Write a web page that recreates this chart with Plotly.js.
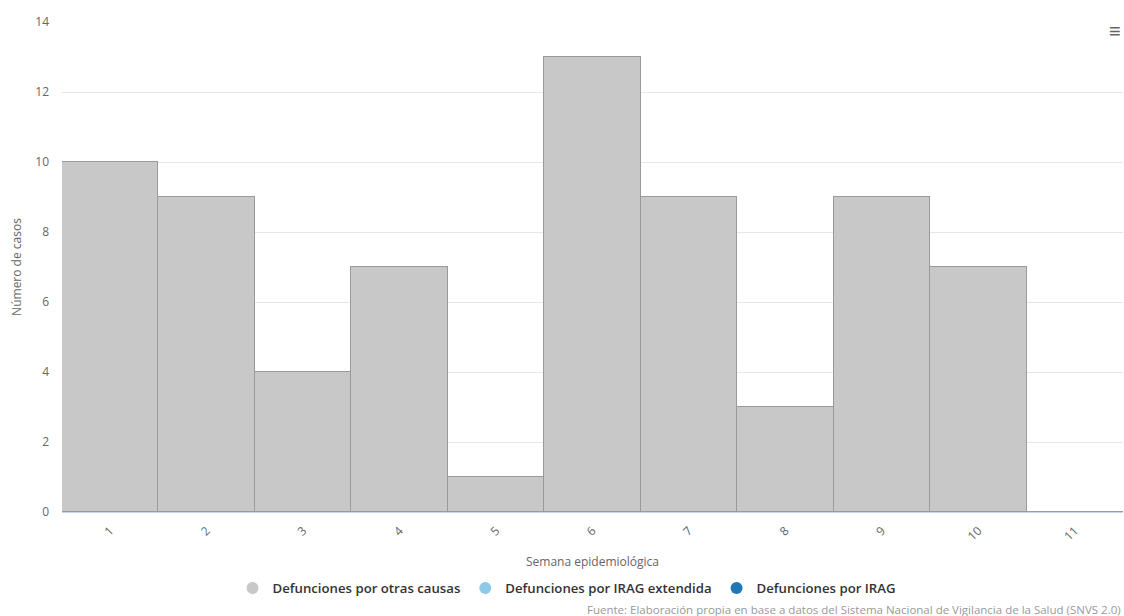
<!DOCTYPE html>
<html>
<head>
<meta charset="utf-8">
<script src="https://cdn.plot.ly/plotly-3.0.1.min.js"></script>
<style>html,body{margin:0;padding:0;background:#fff;}#chart{width:1124px;height:616px;}</style>
</head>
<body>
<div id="chart"></div>
<script>
const semanas = ["1","2","3","4","5","6","7","8","9","10","11"];
const otrasCausas = [10, 9, 4, 7, 1, 13, 9, 3, 9, 7, 0];
const iragExtendida = [0, 0, 0, 0, 0, 0, 0, 0, 0, 0, 0];
const irag = [0, 0, 0, 0, 0, 0, 0, 0, 0, 0, 0];
const yTicks = [0, 2, 4, 6, 8, 10, 12, 14];

const seriesNames = ["Defunciones por otras causas", "Defunciones por IRAG extendida", "Defunciones por IRAG"];
const seriesColors = ["#c8c8c8", "#8ecae6", "#1f78b4"];
const seriesData = [otrasCausas, iragExtendida, irag];

const font = "'Open Sans','Noto Sans',sans-serif";

const traces = [];
seriesData.forEach((vals, i) => {
  traces.push({
    type: 'bar', x: semanas, y: vals, name: seriesNames[i], showlegend: false,
    marker: {color: seriesColors[i], line: {color: i === 0 ? '#9a9a9a' : 'rgba(0,0,0,0)', width: i === 0 ? 1 : 0}},
    hoverinfo: 'x+y+name'
  });
});
seriesNames.forEach((n, i) => {
  traces.push({
    type: 'scatter', mode: 'markers', x: [null], y: [null], name: n, showlegend: true,
    marker: {color: seriesColors[i], size: 14, symbol: 'circle'}, hoverinfo: 'skip'
  });
});

const layout = {
  width: 1124, height: 616,
  margin: {l: 62, r: 1, t: 22, b: 104},
  paper_bgcolor: '#ffffff', plot_bgcolor: '#ffffff',
  barmode: 'stack', bargap: 0,
  font: {family: font, color: '#666666', size: 12},
  xaxis: {
    type: 'category', tickangle: -45, showgrid: false, showline: true, linecolor: '#ccd6eb', linewidth: 1,
    ticks: '', ticklabelstandoff: 6, tickfont: {size: 12, color: '#666666'},
    title: {text: 'Semana epidemiológica', font: {size: 12, color: '#666666'}, standoff: 14},
    fixedrange: true, automargin: false
  },
  yaxis: {
    range: [0, 14], tickvals: yTicks, ticktext: yTicks.map(String), showgrid: true, gridcolor: '#e6e6e6',
    zeroline: false, showline: false, ticks: '', ticklen: 0, ticklabelstandoff: 12, tickfont: {size: 12, color: '#666666'},
    title: {text: 'Número de casos', font: {size: 12, color: '#666666'}, standoff: 11},
    fixedrange: true, automargin: false
  },
  legend: {
    orientation: 'h', x: 0.476, xanchor: 'center', y: -0.156, yanchor: 'middle', traceorder: 'normal',
    font: {size: 13.2, color: '#333333', family: font, weight: 600}, itemsizing: 'constant', tracegroupgap: 0
  },
  annotations: [
    {text: 'Fuente: Elaboración propia en base a datos del Sistema Nacional de Vigilancia de la Salud (SNVS 2.0)',
     xref: 'paper', yref: 'paper', x: 1.0, y: -0.199, xanchor: 'right', yanchor: 'middle', showarrow: false,
     font: {size: 11.5, color: '#999999'}},
    {text: '≡', xref: 'paper', yref: 'paper', x: 0.992, y: 0.982, xanchor: 'center', yanchor: 'middle', showarrow: false,
     font: {size: 20, color: '#666666'}}
  ],
  showlegend: true
};

Plotly.newPlot('chart', traces, layout, {displayModeBar: false, responsive: false});
</script>
</body>
</html>
